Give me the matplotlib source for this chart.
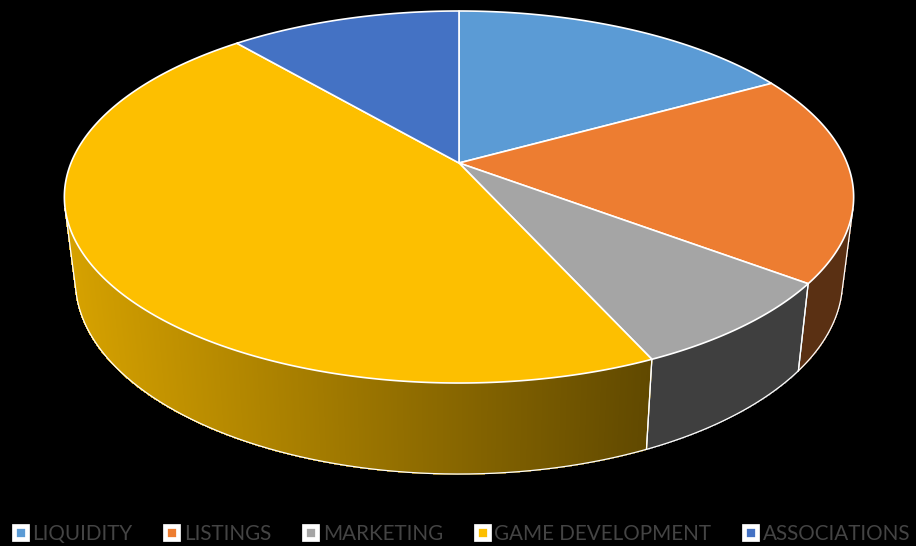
import numpy as np
import matplotlib
matplotlib.use("Agg")
import matplotlib.pyplot as plt
from matplotlib.patches import Polygon, Patch
from matplotlib.collections import PolyCollection

categories = ["LIQUIDITY", "LISTINGS", "MARKETING", "GAME DEVELOPMENT", "ASSOCIATIONS"]
values = [17.0, 18.2, 8.0, 45.5, 11.3]
colors = ["#5B9BD5", "#ED7D31", "#A5A5A5", "#FDBF00", "#4472C4"]

# projection of the tilted disc, in pixels
CX, CY, A, B, K = 459.0, 163.0, 388.0, 179.8, 0.1828
SHRINK, Y_FRONT, DEPTH, DEPTH_SLOPE = 0.972, 383.0, 91.0, 0.04

plt.rcParams["font.family"] = ["Lato", "DejaVu Sans"]
fig = plt.figure(figsize=(9.16, 5.46), dpi=100, facecolor="black")
ax = fig.add_axes([0, 0, 1, 1], facecolor="black")
ax.set_xlim(0, 916)
ax.set_ylim(546, 0)
ax.axis("off")


def top(theta):
    w = 1 + K * np.cos(theta)
    return CX + A * np.sin(theta) / w, CY - B * np.cos(theta) / w


def base(x, y):
    return CX + (x - CX) * SHRINK, y + DEPTH - DEPTH_SLOPE * (Y_FRONT - y)


def shade(x):
    return np.interp(x, [64, 650], [0.85, 0.38])


def rgb(c):
    return np.array(matplotlib.colors.to_rgb(c))


edges = np.concatenate([[0], np.cumsum(values)]) / np.sum(values) * 2 * np.pi

# side walls
for i, col in enumerate(colors):
    th = np.linspace(edges[i], edges[i + 1], max(8, int(values[i] * 14)))
    x, y = top(th)
    bx, by = base(x, y)
    quads, fc, vis = [], [], []
    for j in range(len(th) - 1):
        q = np.array([[x[j], y[j]], [x[j + 1], y[j + 1]], [bx[j + 1], by[j + 1]], [bx[j], by[j]]])
        area = 0.5 * np.sum(q[:, 0] * np.roll(q[:, 1], -1) - np.roll(q[:, 0], -1) * q[:, 1])
        if area < 0:
            quads.append(q)
            fc.append(rgb(col) * shade(q[:, 0].mean()))
            vis.append(j)
    if quads:
        ax.add_collection(PolyCollection(quads, facecolors=fc, edgecolors=fc, linewidths=0.6,
                                         antialiaseds=False, zorder=2))
        idx = np.array(vis + [vis[-1] + 1])
        ax.plot(bx[idx], by[idx], color="white", lw=0.9, zorder=3, solid_capstyle="round")
        for e in (idx[0], idx[-1]):
            ax.plot([x[e], bx[e]], [y[e], by[e]], color="white", lw=0.9, zorder=3)

# top faces
for i, col in enumerate(colors):
    th = np.linspace(edges[i], edges[i + 1], max(8, int(values[i] * 14)))
    x, y = top(th)
    pts = np.column_stack([np.r_[CX, x], np.r_[CY, y]])
    ax.add_patch(Polygon(pts, closed=True, facecolor=col, edgecolor="white", lw=1.2, zorder=4, joinstyle="round"))

handles = [Patch(facecolor=c, edgecolor="white", linewidth=3.4, joinstyle="round") for c in colors]
ax.legend(handles, categories, loc="lower center", bbox_to_anchor=(0.5045, 0.004), ncol=5, frameon=False,
          fontsize=14.85, labelcolor="#444444", handlelength=0.62, handleheight=0.62,
          handletextpad=0.28, columnspacing=1.6, borderpad=0, borderaxespad=0)

fig.savefig("out.png", dpi=100, facecolor="black")
